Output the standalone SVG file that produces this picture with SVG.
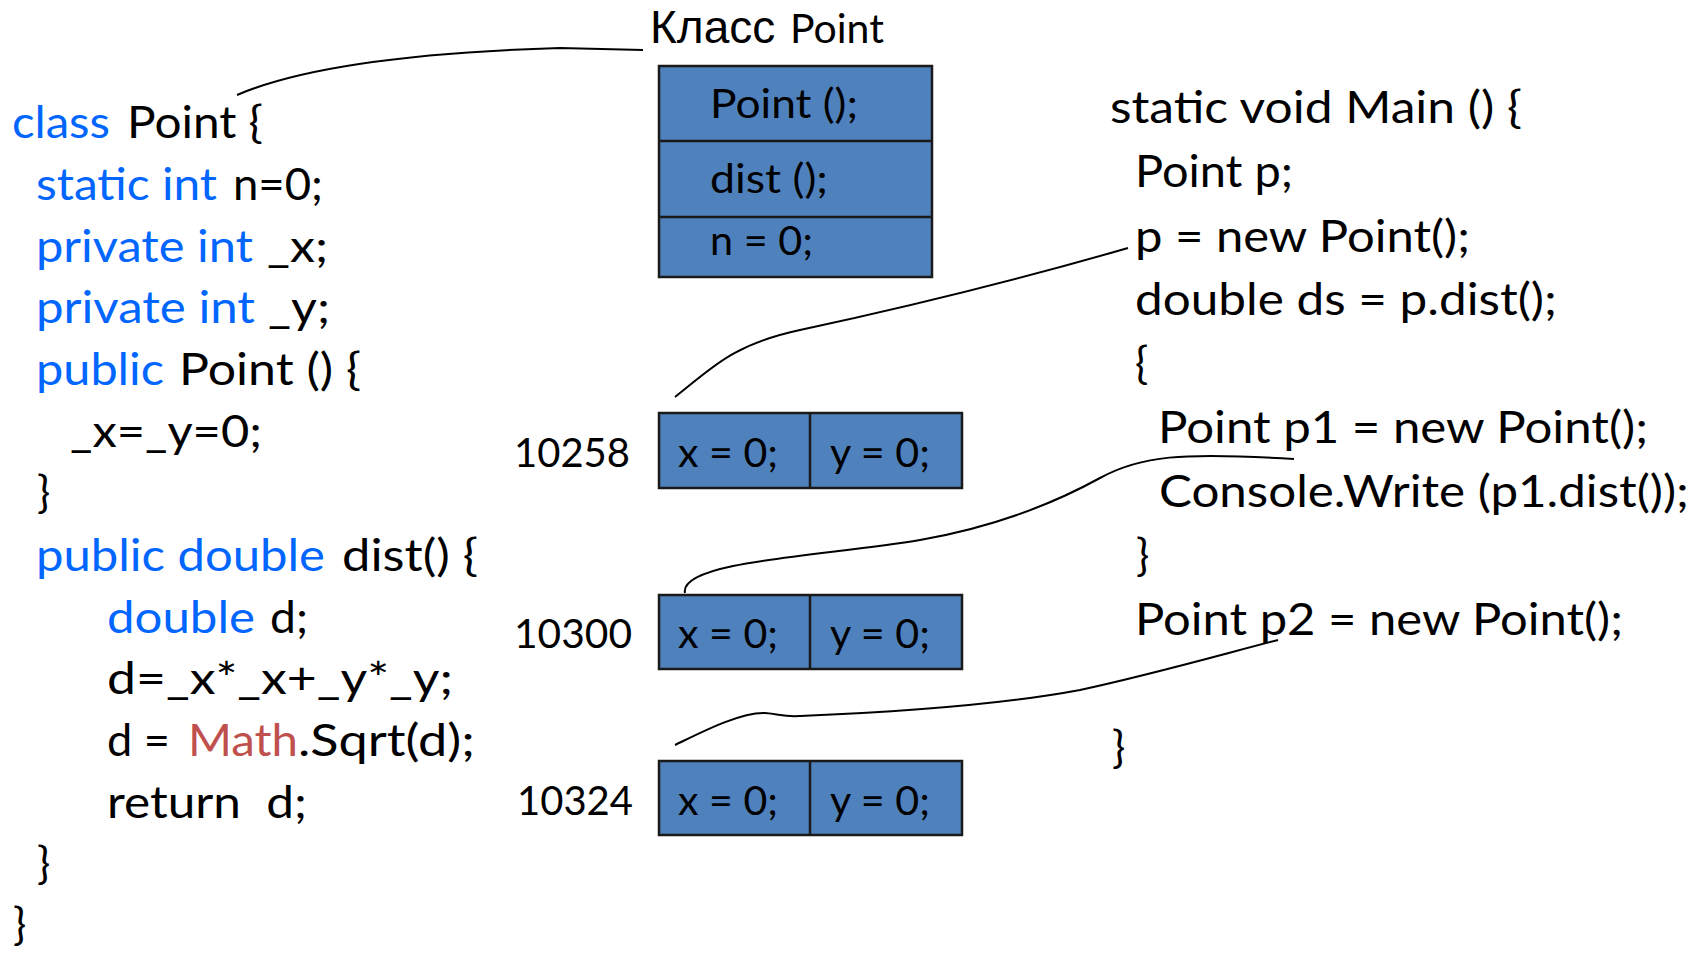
<svg xmlns="http://www.w3.org/2000/svg" width="1702" height="953" viewBox="0 0 1702 953">
<style>
.c{font-family:Lato,"Liberation Sans",sans-serif;font-size:44px;fill:#000}
.k{fill:#0066ff}
.m{fill:#c0504d}
.bx{font-family:Lato,"Liberation Sans",sans-serif;font-size:40px;fill:#000}
.mem{font-family:Lato,"Liberation Sans",sans-serif;font-size:41px;fill:#000}
.ttl{font-family:"Liberation Sans",Arial,sans-serif;font-size:46px;fill:#000}
.ttl2{font-family:Lato,"Liberation Sans",sans-serif;font-size:41px}
.box{fill:#4f81bd;stroke:#1a1a1a;stroke-width:2.5}
.div{stroke:#1a1a1a;stroke-width:2.5}
.con{fill:none;stroke:#000;stroke-width:2}
</style>
<rect width="1702" height="953" fill="#fff"/>

<g id="class-code">
<text class="c k" x="12" y="138" textLength="98" lengthAdjust="spacingAndGlyphs">class</text>
<text class="c" x="127" y="138" textLength="136" lengthAdjust="spacingAndGlyphs">Point {</text>
<text class="c k" x="36" y="200" textLength="181" lengthAdjust="spacingAndGlyphs">static int</text>
<text class="c" x="233" y="200" textLength="90" lengthAdjust="spacingAndGlyphs">n=0;</text>
<text class="c k" x="36" y="262" textLength="217" lengthAdjust="spacingAndGlyphs">private int</text>
<text class="c" x="267" y="262" textLength="61" lengthAdjust="spacingAndGlyphs">_x;</text>
<text class="c k" x="36" y="323" textLength="219" lengthAdjust="spacingAndGlyphs">private int</text>
<text class="c" x="268" y="323" textLength="62" lengthAdjust="spacingAndGlyphs">_y;</text>
<text class="c k" x="36" y="385" textLength="128" lengthAdjust="spacingAndGlyphs">public</text>
<text class="c" x="179" y="385" textLength="182" lengthAdjust="spacingAndGlyphs">Point () {</text>
<text class="c" x="70" y="447" textLength="192" lengthAdjust="spacingAndGlyphs">_x=_y=0;</text>
<text class="c" x="37" y="508">}</text>
<text class="c k" x="36" y="571" textLength="289" lengthAdjust="spacingAndGlyphs">public double</text>
<text class="c" x="342" y="571" textLength="136" lengthAdjust="spacingAndGlyphs">dist() {</text>
<text class="c k" x="107" y="633" textLength="148" lengthAdjust="spacingAndGlyphs">double</text>
<text class="c" x="270" y="633" textLength="38" lengthAdjust="spacingAndGlyphs">d;</text>
<text class="c" x="107" y="694" textLength="346" lengthAdjust="spacingAndGlyphs">d=_x*_x+_y*_y;</text>
<text class="c" x="107" y="756" textLength="63" lengthAdjust="spacingAndGlyphs">d =</text>
<text class="c m" x="188" y="756" textLength="110" lengthAdjust="spacingAndGlyphs">Math</text>
<text class="c" x="298" y="756" textLength="177" lengthAdjust="spacingAndGlyphs">.Sqrt(d);</text>
<text class="c" x="107" y="818" textLength="200" lengthAdjust="spacingAndGlyphs" xml:space="preserve">return  d;</text>
<text class="c" x="37" y="879">}</text>
<text class="c" x="13" y="940">}</text>
</g>

<g id="class-title">
<text class="ttl" x="650" y="43">Класс <tspan class="ttl2" x="790">Point</tspan></text>
</g>

<g id="class-box">
<rect class="box" x="659" y="66" width="273" height="211"/>
<line class="div" x1="659" y1="141" x2="932" y2="141"/>
<line class="div" x1="659" y1="217" x2="932" y2="217"/>
<text class="bx" x="710" y="118" textLength="148" lengthAdjust="spacingAndGlyphs">Point ();</text>
<text class="bx" x="710" y="193" textLength="118" lengthAdjust="spacingAndGlyphs">dist ();</text>
<text class="bx" x="710" y="255" textLength="103" lengthAdjust="spacingAndGlyphs">n = 0;</text>
</g>

<g id="obj-10258">
<text class="mem" x="514" y="467" textLength="116" lengthAdjust="spacingAndGlyphs">10258</text>
<rect class="box" x="659" y="413" width="303" height="75"/>
<line class="div" x1="810" y1="413" x2="810" y2="488"/>
<text class="mem" x="678" y="467" textLength="100" lengthAdjust="spacingAndGlyphs">x = 0;</text>
<text class="mem" x="830" y="467" textLength="100" lengthAdjust="spacingAndGlyphs">y = 0;</text>
</g>

<g id="obj-10300">
<text class="mem" x="514" y="648" textLength="118" lengthAdjust="spacingAndGlyphs">10300</text>
<rect class="box" x="659" y="595" width="303" height="74"/>
<line class="div" x1="810" y1="595" x2="810" y2="669"/>
<text class="mem" x="678" y="648" textLength="100" lengthAdjust="spacingAndGlyphs">x = 0;</text>
<text class="mem" x="830" y="648" textLength="100" lengthAdjust="spacingAndGlyphs">y = 0;</text>
</g>

<g id="obj-10324">
<text class="mem" x="517" y="815" textLength="116" lengthAdjust="spacingAndGlyphs">10324</text>
<rect class="box" x="659" y="761" width="303" height="74"/>
<line class="div" x1="810" y1="761" x2="810" y2="835"/>
<text class="mem" x="678" y="815" textLength="100" lengthAdjust="spacingAndGlyphs">x = 0;</text>
<text class="mem" x="830" y="815" textLength="100" lengthAdjust="spacingAndGlyphs">y = 0;</text>
</g>

<g id="main-code">
<text class="c" x="1110" y="123" textLength="412" lengthAdjust="spacingAndGlyphs">static void Main () {</text>
<text class="c" x="1135" y="187" textLength="158" lengthAdjust="spacingAndGlyphs">Point p;</text>
<text class="c" x="1135" y="252" textLength="335" lengthAdjust="spacingAndGlyphs">p = new Point();</text>
<text class="c" x="1135" y="315" textLength="422" lengthAdjust="spacingAndGlyphs">double ds = p.dist();</text>
<text class="c" x="1135" y="379">{</text>
<text class="c" x="1158" y="443" textLength="490" lengthAdjust="spacingAndGlyphs">Point p1 = new Point();</text>
<text class="c" x="1159" y="507" textLength="530" lengthAdjust="spacingAndGlyphs">Console.Write (p1.dist());</text>
<text class="c" x="1136" y="571">}</text>
<text class="c" x="1135" y="635" textLength="488" lengthAdjust="spacingAndGlyphs">Point p2 = new Point();</text>
<text class="c" x="1112" y="763">}</text>
</g>

<g id="connectors">
<path class="con" d="M237,95 Q330,55 560,48 L643,50"/>
<path class="con" d="M675,397 C710,370 730,345 800,330 S1000,285 1128,248"/>
<path class="con" d="M685,593 C683,583 695,574 733,566 C780,556 860,550 920,540 C1000,526 1060,500 1100,478 C1140,456 1180,452 1294,459"/>
<path class="con" d="M675,745 C700,733 740,712 765,713 C780,714 782,717 800,716 C900,712 1000,705 1080,690 C1150,675 1220,655 1278,640"/>
</g>
</svg>
